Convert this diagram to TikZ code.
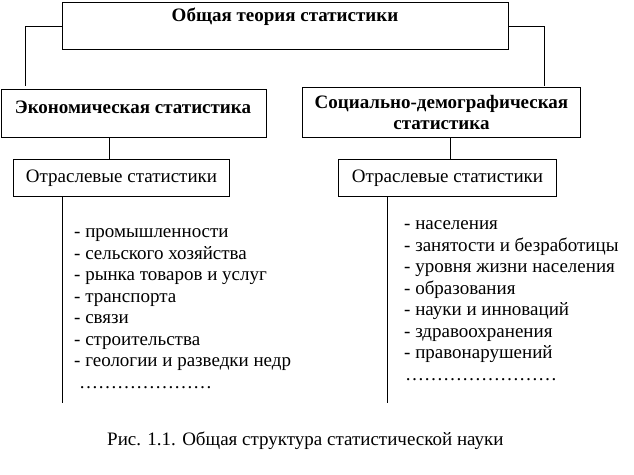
\documentclass[tikz,border=0pt]{standalone}
\usepackage{fontspec}
\setmainfont{Liberation Serif}
\begin{document}
\begin{tikzpicture}[x=1pt,y=-1pt,
  every node/.style={font=\fontsize{19}{21.5}\selectfont, inner sep=0pt},
  box/.style={draw, line width=1pt, anchor=north west},
  bt/.style={font=\fontsize{19}{21.5}\selectfont\bfseries},
  item/.style={anchor=base west},
  conn/.style={line width=1pt}]
\useasboundingbox[fill=white] (0,0) rectangle (634,474);
% boxes
\node[box, minimum width=446pt, minimum height=47pt] (top) at (62,2) {};
\node[bt] (toptext) at (285,17) {Общая теория статистики};
\node[box, minimum width=265pt, minimum height=48pt] (econ) at (1,89) {};
\node[bt] (econtext) at (133,107) {Экономическая статистика};
\node[box, minimum width=278pt, minimum height=50pt, align=center, bt] (soc) at (302,87)
  {Социально-демографическая\\статистика};
\node[box, minimum width=216pt, minimum height=37pt] (otrL) at (13,159) {Отраслевые статистики};
\node[box, minimum width=218pt, minimum height=37pt] (otrR) at (338,159) {Отраслевые статистики};
% connectors
\coordinate (lc) at (25,86);
\coordinate (rc) at (544,86);
\draw[conn] (top.west) -| (lc);
\draw[conn] (top.east) -| (rc);
\draw[conn] (econ.south -| 109,0) -- (otrL.north -| 109,0);
\draw[conn] (soc.south -| 450,0) -- (otrR.north -| 450,0);
\coordinate (le) at (62,403);
\coordinate (re) at (387,403);
\draw[conn] (otrL.south -| le) -- (le);
\draw[conn] (otrR.south -| re) -- (re);
% left list
\node[item] (a1) at (74,237.5) {- промышленности};
\node[item] (a2) at (74,259) {- сельского хозяйства};
\node[item] (a3) at (74,280.5) {- рынка товаров и услуг};
\node[item] (a4) at (74,302) {- транспорта};
\node[item] (a5) at (74,323.5) {- связи};
\node[item] (a6) at (74,345) {- строительства};
\node[item] (a7) at (74,366.5) {- геологии и разведки недр};
\node[item] (a8) at (79,388) {…………………};
% right list
\node[item] (b1) at (404,229.5) {- населения};
\node[item] (b2) at (404,251) {- занятости и безработицы};
\node[item] (b3) at (404,272.5) {- уровня жизни населения};
\node[item] (b4) at (404,294) {- образования};
\node[item] (b5) at (404,315.5) {- науки и инноваций};
\node[item] (b6) at (404,337) {- здравоохранения};
\node[item] (b7) at (404,358.5) {- правонарушений};
\node[item] (b8) at (405,380) {……………………};
% caption
\node[item] (cap) at (107,445) {Рис. 1.1. Общая структура статистической науки};
\end{tikzpicture}
\end{document}
